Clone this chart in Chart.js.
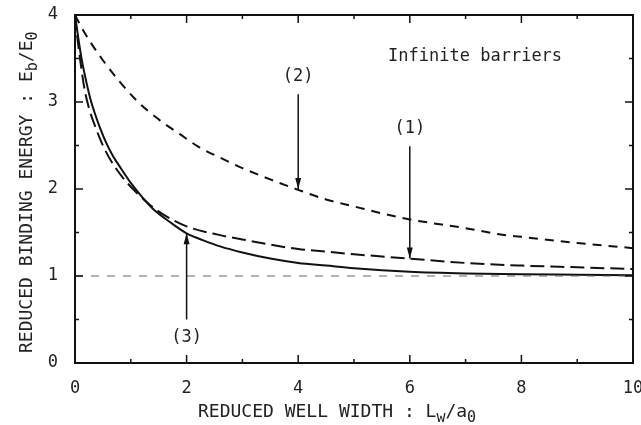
<!DOCTYPE html>
<html>
<head>
<meta charset="utf-8">
<script src="https://cdn.jsdelivr.net/npm/chart.js@4/dist/chart.umd.min.js"></script>
<style>
html,body{margin:0;padding:0;background:#fff;}
#wrap{width:641px;height:425px;}
</style>
</head>
<body>
<div id="wrap"><canvas id="c" width="641" height="425"></canvas></div>
<script>
// ---- data ----
const curve3X = [0,0.06,0.12,0.2,0.27,0.35,0.45,0.56,0.68,0.8,1.0,1.2,1.4,1.7,2.0,2.3,2.6,3.0,3.5,4.0,4.5,5,6,7,8,9,10];
const curve3Y = [4.0,3.73,3.49,3.24,3.05,2.88,2.70,2.53,2.38,2.26,2.07,1.91,1.77,1.62,1.49,1.41,1.34,1.27,1.2,1.15,1.12,1.09,1.05,1.03,1.02,1.015,1.01];
const curve1X = [0,0.05,0.1,0.17,0.25,0.35,0.5,0.65,0.87,1.1,1.34,1.6,2.0,2.6,3.0,3.5,4.0,4.5,5,6,7,8,9,10];
const curve1Y = [4.0,3.7,3.45,3.15,2.93,2.74,2.5,2.32,2.12,1.96,1.82,1.7,1.57,1.47,1.42,1.36,1.31,1.28,1.25,1.2,1.15,1.12,1.1,1.08];
const curve2X = [0,0.14,0.5,1.1,1.5,1.88,2.2,2.6,3.0,3.5,4.0,4.5,5,5.5,6,7,7.6,8,9,10];
const curve2Y = [4.0,3.83,3.48,3.02,2.8,2.63,2.49,2.36,2.24,2.11,1.99,1.88,1.8,1.72,1.65,1.55,1.48,1.45,1.38,1.32];
const refLineX = [0,10];
const refLineY = [1,1];
const xTickLabels = ['0','2','4','6','8','10'];
const yTickLabels = ['0','1','2','3','4'];
const arrowLabels = ['(2)','(1)','(3)'];
const arrowX = [4,6,2];
const arrowFromY = [3.09,2.49,0.5];
const arrowToY = [2.0,1.2,1.49];
const labelY = [3.29,2.69,0.29];
const noteText = 'Infinite barriers';
const noteX = 7.17, noteY = 3.52;

function pts(xs, ys){ return xs.map((x,i)=>({x:x,y:ys[i]})); }

const FONT = '"DejaVu Sans Mono", "Liberation Mono", monospace';
const INK = '#111';
const TXT = '#222';

const decor = {
  id:'decor',
  afterDatasetsDraw(chart){
    const ctx = chart.ctx, a = chart.chartArea;
    const xs = chart.scales.x, ys = chart.scales.y;
    ctx.save();
    // frame
    ctx.strokeStyle = INK; ctx.lineWidth = 2;
    ctx.strokeRect(a.left, a.top, a.right-a.left, a.bottom-a.top);
    // ticks (inward, all sides)
    ctx.lineWidth = 1.5;
    for(let v=0; v<=10; v+=1){
      const p = xs.getPixelForValue(v);
      const L = (v%2===0)?8:4;
      ctx.beginPath();
      ctx.moveTo(p,a.bottom); ctx.lineTo(p,a.bottom-L);
      ctx.moveTo(p,a.top); ctx.lineTo(p,a.top+L);
      ctx.stroke();
    }
    for(let v=0; v<=4; v+=0.5){
      const p = ys.getPixelForValue(v);
      const L = (Math.abs(v-Math.round(v))<1e-6)?8:4;
      ctx.beginPath();
      ctx.moveTo(a.left,p); ctx.lineTo(a.left+L,p);
      ctx.moveTo(a.right,p); ctx.lineTo(a.right-L,p);
      ctx.stroke();
    }
    // tick labels
    ctx.fillStyle = TXT;
    ctx.font = '17px ' + FONT;
    ctx.textAlign = 'center'; ctx.textBaseline = 'middle';
    xTickLabels.forEach(t=>{
      ctx.fillText(t, xs.getPixelForValue(parseFloat(t)), a.bottom+26);
    });
    ctx.textAlign = 'right';
    yTickLabels.forEach(t=>{
      ctx.fillText(t, a.left-17, ys.getPixelForValue(parseFloat(t)));
    });
    // x title with subscripts
    drawRich(ctx, [{t:'REDUCED WELL WIDTH : L'},{t:'w',sub:true},{t:'/a'},{t:'0',sub:true}], 198, 417);
    // y title rotated
    ctx.save();
    ctx.translate(32, 353);
    ctx.rotate(-Math.PI/2);
    drawRich(ctx, [{t:'REDUCED BINDING ENERGY : E'},{t:'b',sub:true},{t:'/E'},{t:'0',sub:true}], 0, 0);
    ctx.restore();
    // note
    ctx.font = '17px ' + FONT;
    ctx.textAlign = 'center'; ctx.textBaseline = 'middle';
    ctx.fillText(noteText, xs.getPixelForValue(noteX), ys.getPixelForValue(noteY));
    // arrows + labels
    arrowLabels.forEach((lab,i)=>{
      const px = xs.getPixelForValue(arrowX[i]);
      const y0 = ys.getPixelForValue(arrowFromY[i]);
      const y1 = ys.getPixelForValue(arrowToY[i]);
      ctx.fillStyle = TXT;
      ctx.fillText(lab, px, ys.getPixelForValue(labelY[i]));
      ctx.fillStyle = INK;
      ctx.lineWidth = 1.5; ctx.strokeStyle = INK;
      ctx.beginPath(); ctx.moveTo(px,y0); ctx.lineTo(px,y1); ctx.stroke();
      const dir = y1>y0 ? 1 : -1;
      ctx.beginPath();
      ctx.moveTo(px, y1);
      ctx.lineTo(px-3, y1-dir*11);
      ctx.lineTo(px+3, y1-dir*11);
      ctx.closePath(); ctx.fill();
    });
    ctx.restore();
  }
};

function drawRich(ctx, parts, x, y){
  ctx.textAlign = 'left'; ctx.textBaseline = 'alphabetic';
  ctx.fillStyle = TXT;
  let cx = x;
  parts.forEach(p=>{
    ctx.font = (p.sub? '15px ':'18px ') + FONT;
    const dy = p.sub ? 5 : 0;
    ctx.fillText(p.t, cx, y+dy);
    cx += ctx.measureText(p.t).width;
  });
}

new Chart(document.getElementById('c'), {
  type:'scatter',
  data:{
    datasets:[
      {label:'ref', data:pts(refLineX,refLineY), showLine:true, borderColor:'#666', borderWidth:1, borderDash:[8,8], pointRadius:0},
      {label:'(3)', data:pts(curve3X,curve3Y), showLine:true, borderColor:INK, borderWidth:2, pointRadius:0, cubicInterpolationMode:'monotone'},
      {label:'(1)', data:pts(curve1X,curve1Y), showLine:true, borderColor:INK, borderWidth:2, borderDash:[14,6], pointRadius:0, cubicInterpolationMode:'monotone'},
      {label:'(2)', data:pts(curve2X,curve2Y), showLine:true, borderColor:INK, borderWidth:2, borderDash:[9,7], pointRadius:0, cubicInterpolationMode:'monotone'}
    ]
  },
  options:{
    responsive:false, animation:false,
    layout:{padding:{left:75, right:8, top:15, bottom:62}},
    plugins:{legend:{display:false}, tooltip:{enabled:false}},
    scales:{
      x:{type:'linear', min:0, max:10, display:false},
      y:{type:'linear', min:0, max:4, display:false}
    }
  },
  plugins:[decor]
});
</script>
</body>
</html>
